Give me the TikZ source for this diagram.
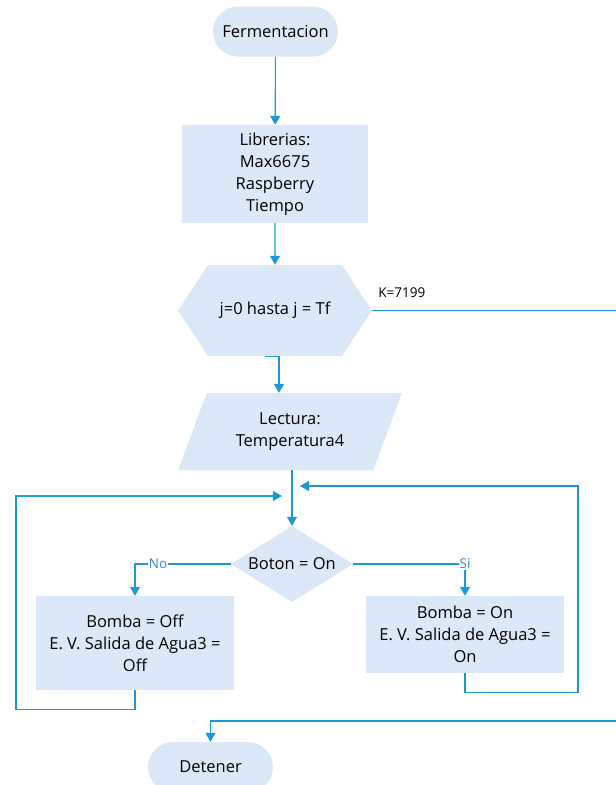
\documentclass[tikz,border=0pt]{standalone}
\usepackage{fontspec}
\setmainfont{Open Sans}
\usetikzlibrary{arrows.meta,calc,positioning,shapes.geometric,shapes.misc,shapes.symbols}
\definecolor{boxfill}{RGB}{218,232,247}
\definecolor{wire}{RGB}{27,152,214}
\definecolor{tagblue}{RGB}{52,136,196}
\tikzset{
  base/.style={fill=boxfill, draw=none, align=center, inner sep=0pt, font=\fontsize{16.5}{22}\selectfont},
  terminal/.style={base, rounded rectangle, minimum width=125, minimum height=50},
  process/.style={base, rectangle},
  loopbox/.style={base, signal, signal to=west and east, signal pointer angle=113, minimum width=194, minimum height=91},
  iobox/.style={base, trapezium, trapezium left angle=64, trapezium right angle=116, trapezium stretches=true, minimum width=224, minimum height=77},
  decision/.style={base, diamond, aspect=1.6, minimum width=122, minimum height=76},
  wireline/.style={draw=wire, line width=1.1pt},
  flow/.style={wireline, -{Triangle[width=10pt,length=9pt]}},
  tag/.style={font=\fontsize{13.5}{15}\selectfont, text=tagblue, fill=white, inner sep=1pt},
}
\begin{document}
\begin{tikzpicture}[x=1pt,y=-1pt]
                        \clip (0,0) rectangle (616,785);
                        \useasboundingbox (0,0) rectangle (616,785);

                        % Start terminal
                        \node [terminal] (ferm) at (275.5,31.5) {Fermentacion};%

                        % Libraries block
                        \node [process, minimum width=186, minimum height=98] (libs) at (275,174) {Librerias:\\Max6675\\Raspberry\\Tiempo};%

                        % Loop header
                        \node [loopbox] (loop) at (275,310.5) {j=0 hasta j = Tf};%

                        % Reading block
                        \node [iobox] (read) at (290,431.5) {Lectura:\\Temperatura4};%

                        % Decision
                        \node [decision] (dec) at (292,564) {Boton = On};%

                        % Branch blocks
                        \node [process, minimum width=198, minimum height=94] (off) at (135,643) {Bomba = Off\\E. V. Salida de Agua3 =\\Off};%
                        \node [process, minimum width=198, minimum height=77] (on) at (465,634.5) {Bomba = On\\E. V. Salida de Agua3 =\\On};%

                        % End terminal
                        \node [terminal] (stop) at (210.5,767) {Detener};%

                        % Free ends of connectors
                        \coordinate (loopout) at (616,310.5);%
                        \coordinate (stopin) at (616,721);%
                        \coordinate (backL) at (282,496);%
                        \coordinate (backR) at (300,486);%

                        % Drawing main flow
                        \draw [flow] (ferm) -- (libs);%
                        \draw [flow] (libs) -- (loop);%
                        \draw [flow] ($(loop.south)+(-10,0)$) -| ($(read.north)+(-11,0)$);%
                        \draw [flow] (read.south -| dec.north) -- (dec.north);%

                        % Drawing loop exit
                        \draw [wireline] (loop.east) -- (loopout);%
                        \node [font=\fontsize{13.5}{15}\selectfont, anchor=west, inner sep=0pt] (kval) at ($(loop.east)+(6,-17.5)$) {K=7199};%
                        \draw [flow] (stopin) -| (stop.north);%

                        % Drawing branches
                        \draw [flow] (dec.west) -| node [tag, pos=0.38] (no) {No} (off.north);%
                        \draw [flow] (dec.east) -| node [tag, pos=0.5] (si) {Si} (on.north);%

                        % Drawing return lines
                        \draw [flow] (off.south) -- ++(0,19) -| (16,496) -- (backL);%
                        \draw [flow] (on.south) -- ++(0,19) -| (578,486) -- (backR);%
\end{tikzpicture}
\end{document}
